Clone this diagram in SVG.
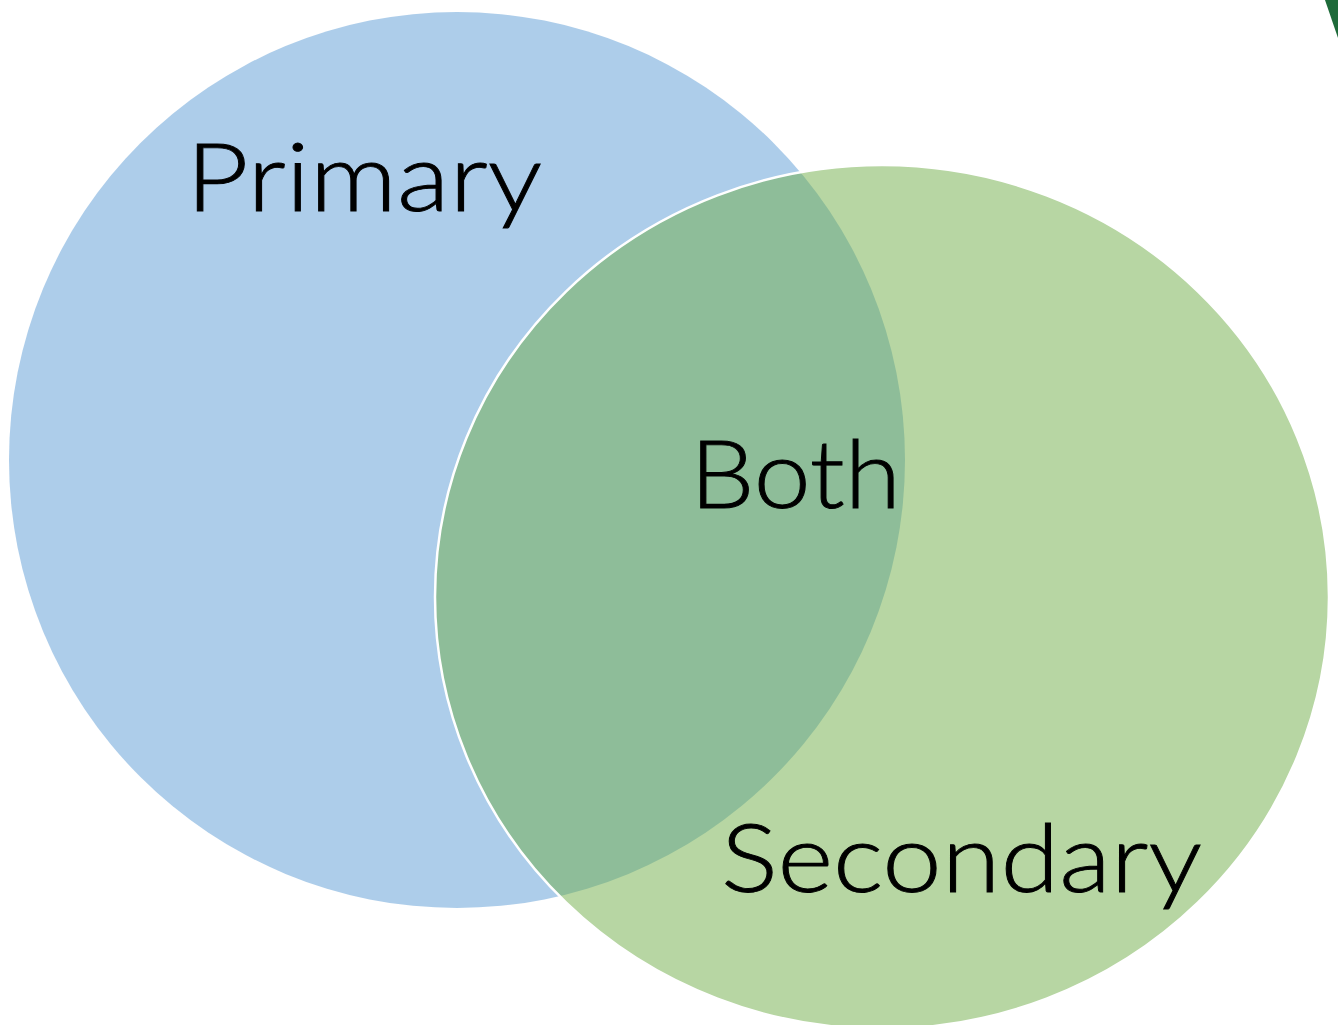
<svg xmlns="http://www.w3.org/2000/svg" width="1338" height="1025" viewBox="0 0 1338 1025">
<style>
.lbl{font-family:Lato,"Liberation Sans",sans-serif;font-size:94px;font-weight:300;fill:#000;stroke:#000;stroke-width:0.9px}
</style>
<rect x="0" y="0" width="1338" height="1025" fill="#ffffff"/>
<g id="primary">
<ellipse cx="457" cy="460" rx="448" ry="448" fill="#5B9BD5" fill-opacity="0.5"/>
</g>
<g id="secondary">
<ellipse cx="882" cy="597" rx="447" ry="432" fill="#70AD47" fill-opacity="0.5" stroke="#ffffff" stroke-width="2.5"/>
</g>
<g id="corner">
<polygon points="1325,0 1338,0 1338,38" fill="#1E6B3A"/>
</g>
<g id="labels">
<text class="lbl" x="186" y="211" textLength="356" lengthAdjust="spacingAndGlyphs">Primary</text>
<text class="lbl" x="690" y="508" textLength="211" lengthAdjust="spacingAndGlyphs">Both</text>
<text class="lbl" x="721" y="892" textLength="481" lengthAdjust="spacingAndGlyphs">Secondary</text>
</g>
<g id="connectors"/>
</svg>
